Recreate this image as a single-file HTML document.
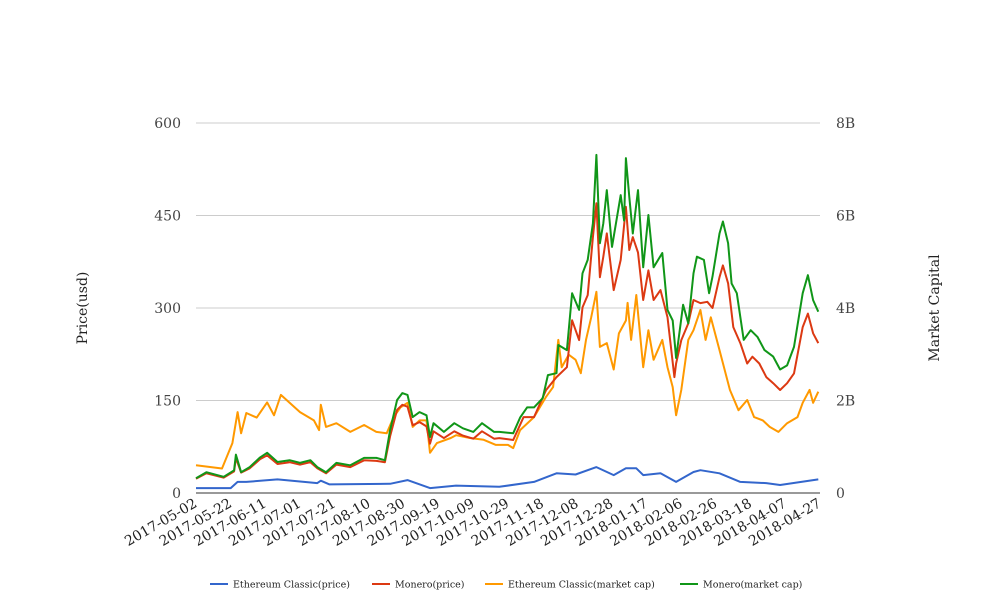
<!DOCTYPE html>
<html><head><meta charset="utf-8"><style>
html,body{margin:0;padding:0;background:#fff;}
svg{display:block;font-family:"DejaVu Serif","Liberation Serif",serif;}
</style></head><body>
<svg id="chart" width="1008" height="616" viewBox="0 0 1008 616" xmlns="http://www.w3.org/2000/svg">
<g id="grid"></g>
<g id="yl"></g>
<g id="yr"></g>
<g id="xa"></g>
<g id="series"></g>
<text transform="translate(87,308) rotate(-90)" text-anchor="middle" font-size="14" fill="#222">Price(usd)</text>
<text transform="translate(939,308) rotate(-90)" text-anchor="middle" font-size="14" fill="#222">Market Capital</text>
<g id="legend"></g>
</svg>
<script>
const startDate = "2017-05-02";
const xTickLabels = ["2017-05-02","2017-05-22","2017-06-11","2017-07-01","2017-07-21","2017-08-10","2017-08-30","2017-09-19","2017-10-09","2017-10-29","2017-11-18","2017-12-08","2017-12-28","2018-01-17","2018-02-06","2018-02-26","2018-03-18","2018-04-07","2018-04-27"];
const leftTicks = [0,150,300,450,600];
const rightTicks = [0,2,4,6,8];
const rightTickLabels = ["0","2B","4B","6B","8B"];

const etcPriceDays = [0,20,24,29,47,70,72,77,112,122,135,150,175,195,208,219,231,241,248,254,258,268,277,287,291,302,314,329,337,359];
const etcPrice = [8,8,18,18,22,16,20,14,15,21,8,12,10,18,32,30,42,29,40,40,29,32,18,34,37,32,18,16,13,22];

const xmrPriceDays = [0,6,16,22,23,26,31,37,41,47,54,60,66,70,75,81,89,97,104,109,112,116,119,122,125,129,133,135,137,143,149,154,160,165,172,175,183,189,195,202,208,214,217,221,223,226,229,231,233,235,237,241,245,248,250,252,255,258,261,264,268,272,276,277,280,284,287,291,295,298,302,304,307,310,314,318,321,325,329,333,337,341,345,350,353,356,359];
const xmrPrice = [23,32,25,35,57,33,40,55,61,47,50,46,50,40,32,46,42,53,52,50,92,135,143,140,110,115,108,80,100,89,100,93,88,100,88,89,86,123,123,167,188,204,280,248,301,321,415,470,350,383,421,329,378,464,394,415,390,313,361,313,329,285,188,210,248,275,313,308,310,300,350,369,340,269,243,210,221,210,188,178,167,178,194,269,291,259,243];

const etcCapDays = [0,15,21,24,26,29,35,41,45,49,54,60,68,71,72,75,81,89,97,104,110,114,118,122,125,129,133,135,139,147,150,158,166,173,180,183,187,195,202,206,209,211,215,219,222,225,228,231,233,237,241,244,248,249,251,254,258,261,264,269,272,275,277,280,284,287,291,294,297,302,308,313,318,322,327,331,336,341,347,350,354,356,359];
const etcCap = [0.60,0.53,1.08,1.75,1.29,1.73,1.63,1.96,1.68,2.12,1.95,1.75,1.57,1.36,1.91,1.43,1.51,1.32,1.47,1.32,1.29,1.64,1.85,1.95,1.43,1.57,1.57,0.87,1.08,1.19,1.25,1.19,1.15,1.04,1.04,0.97,1.36,1.64,2.08,2.29,3.31,2.72,2.99,2.88,2.59,3.31,3.80,4.35,3.16,3.24,2.67,3.45,3.73,4.11,3.31,4.28,2.72,3.52,2.88,3.31,2.72,2.29,1.68,2.23,3.31,3.52,3.96,3.31,3.80,3.09,2.23,1.79,2.01,1.64,1.57,1.43,1.32,1.51,1.64,1.95,2.23,1.95,2.19];

const xmrCapDays = [0,6,16,22,23,26,31,37,41,47,54,60,66,70,75,81,89,97,104,109,112,116,119,122,125,129,133,135,137,143,149,154,160,165,172,175,183,187,191,195,200,203,208,209,214,217,221,223,226,229,231,233,235,237,240,245,247,248,250,252,255,258,261,264,269,272,275,277,281,284,287,289,293,296,298,302,304,307,309,312,316,320,324,328,333,337,341,345,350,353,356,359];
const xmrCap = [0.32,0.45,0.35,0.49,0.83,0.45,0.56,0.77,0.87,0.67,0.71,0.65,0.71,0.56,0.45,0.65,0.60,0.76,0.76,0.71,1.36,2.01,2.16,2.12,1.64,1.75,1.68,1.21,1.51,1.32,1.51,1.40,1.32,1.51,1.32,1.32,1.29,1.63,1.85,1.85,2.05,2.55,2.59,3.20,3.09,4.32,3.96,4.75,5.04,5.83,7.31,5.40,5.83,6.55,5.32,6.44,5.89,7.24,6.40,5.61,6.55,4.88,6.01,4.88,5.19,3.96,3.73,2.92,4.07,3.67,4.75,5.11,5.04,4.32,4.68,5.61,5.87,5.40,4.53,4.32,3.31,3.52,3.37,3.09,2.95,2.67,2.76,3.16,4.32,4.71,4.17,3.92];

const seriesNames = ["Ethereum Classic(price)","Monero(price)","Ethereum Classic(market cap)","Monero(market cap)"];
const colors = ["#3366cc","#dc3912","#ff9900","#109618"];

const NS="http://www.w3.org/2000/svg";
const X0=196,X1=820,Y0=493,Y1=123,DMAX=360;
const xS=d=>X0+d*(X1-X0)/DMAX;
const yL=v=>Y0-v*(Y0-Y1)/600;
const yR=v=>Y0-v*(Y0-Y1)/8;
function mk(tag,parent,attrs){const e=document.createElementNS(NS,tag);for(const k in attrs)e.setAttribute(k,attrs[k]);parent.appendChild(e);return e;}

const grid=document.getElementById('grid'), yl=document.getElementById('yl'), yr=document.getElementById('yr'), xa=document.getElementById('xa');
leftTicks.forEach((t,i)=>{
  const y=yL(t);
  if(t>0){const g=mk('line',grid,{x1:X0,x2:X1,y1:y,y2:y,stroke:'#cccccc','stroke-width':1});
  
  }
  const tl=mk('text',yl,{x:181,y:y+5,'text-anchor':'end','font-size':14,fill:'#444'});
  tl.textContent=t;
  
  
});
rightTicks.forEach((t,i)=>{
  const tr=mk('text',yr,{x:836,y:yR(t)+5,'text-anchor':'start','font-size':14,fill:'#444'});
  tr.textContent=rightTickLabels[i];
  
  
});
const ax=mk('line',xa,{x1:X0,x2:X1,y1:Y0,y2:Y0,stroke:'#333','stroke-width':1});


xTickLabels.forEach((lab,i)=>{
  const x=xS(i*20);
  const t=mk('text',xa,{transform:`translate(${x+2},${506}) rotate(-30)`,'text-anchor':'end','font-size':14,fill:'#222'});
  t.textContent=lab;
  
  
});

const sg=document.getElementById('series');
function drawLine(days,vals,yf,color,name){
  const pts=days.map((d,i)=>xS(d).toFixed(1)+','+yf(vals[i]).toFixed(1)).join(' ');
  const p=mk('polyline',sg,{points:pts,fill:'none',stroke:color,'stroke-width':2,'stroke-linejoin':'round'});
  
  
}
drawLine(etcPriceDays,etcPrice,yL,colors[0],'etc-price-line');
drawLine(etcCapDays,etcCap,yR,colors[2],'etc-market-cap-line');
drawLine(xmrPriceDays,xmrPrice,yL,colors[1],'xmr-price-line');
drawLine(xmrCapDays,xmrCap,yR,colors[3],'xmr-market-cap-line');

const lg=document.getElementById('legend');
const lx=[210,372,485,680];
seriesNames.forEach((n,i)=>{
  const g=mk('g',lg,{});
  
  
  mk('line',g,{x1:lx[i],x2:lx[i]+18,y1:584,y2:584,stroke:colors[i],'stroke-width':2});
  const t=mk('text',g,{x:lx[i]+23,y:587.5,'font-size':9.5,fill:'#222'});
  t.textContent=n;
});
</script>
</body></html>
